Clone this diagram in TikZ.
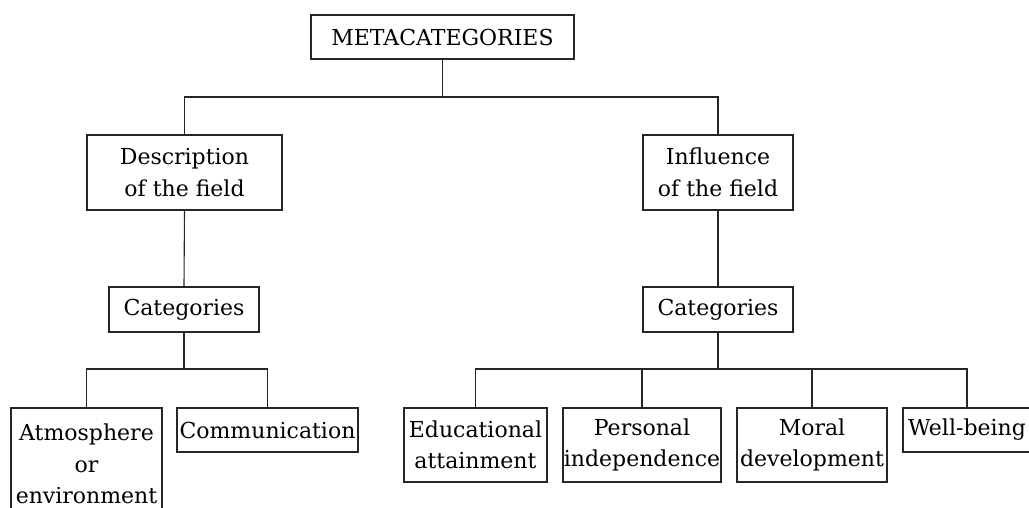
\documentclass[tikz,border=0pt]{standalone}
\usepackage{fontspec}
\setmainfont{DejaVu Serif}
\begin{document}
\begin{tikzpicture}[x=1pt,y=-1pt,
  box/.style={draw=black!85, line width=1.3pt, inner sep=0pt, align=center,
    font=\fontsize{22}{31.5}\selectfont, text=black},
  conn/.style={draw=black!85, line width=1.1pt}]
\useasboundingbox (0,0) rectangle (1029,508);
\node[box, minimum width=263, minimum height=44] (meta) at (442.5,37) {METACATEGORIES};
\node[box, minimum width=195, minimum height=75] (desc) at (184.5,172.5) {Description\\of the field};
\node[box, minimum width=150, minimum height=75] (infl) at (718,172.5) {Influence\\of the field};
\node[box, minimum width=150, minimum height=45] (cat1) at (184,309.5) {Categories};
\node[box, minimum width=150, minimum height=45] (cat2) at (718,309.5) {Categories};
\node[box, minimum width=151, minimum height=112] (atm) at (86.5,464) {Atmosphere\\or\\environment};
\node[box, minimum width=181, minimum height=44] (comm) at (267.5,430) {Communication};
\node[box, minimum width=143, minimum height=74] (edu) at (475.5,445) {Educational\\attainment};
\node[box, minimum width=158, minimum height=74] (pers) at (642,445) {Personal\\independence};
\node[box, minimum width=150, minimum height=74] (moral) at (812,445) {Moral\\development};
\node[box, minimum width=128, minimum height=44] (well) at (967,430) {Well-being};
\coordinate (j0) at (442.5,97);
\coordinate (j1) at (184,369);
\coordinate (j2) at (718,369);
\draw[conn] (meta.south) -- (j0);
\draw[conn] (desc.north) |- (j0) -| (infl.north);
\draw[conn] (desc.south) -- (cat1.north);
\draw[conn] (infl.south) -- (cat2.north);
\draw[conn] (cat1.south) -- (j1);
\draw[conn] (atm.north) |- (j1) -| (comm.north);
\draw[conn] (cat2.south) -- (j2);
\draw[conn] (edu.north) |- (j2) -| (well.north);
\draw[conn] (pers.north) -- (pers.north |- j2);
\draw[conn] (moral.north) -- (moral.north |- j2);
\end{tikzpicture}
\end{document}
